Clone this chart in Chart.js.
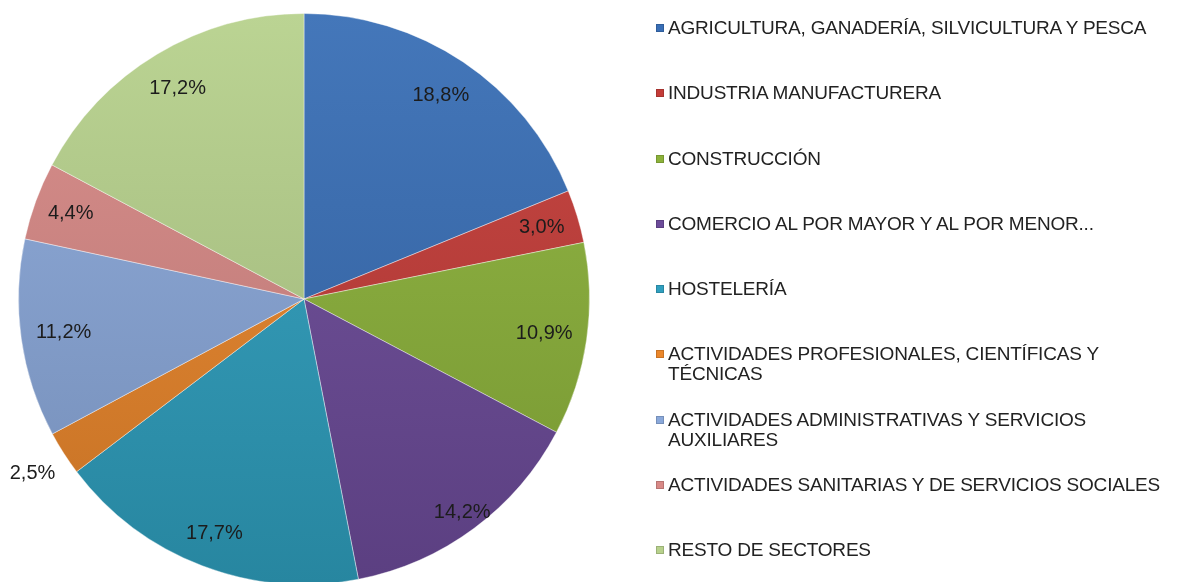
<!DOCTYPE html>
<html>
<head>
<meta charset="utf-8">
<title>Distribución por sectores</title>
<script src="https://cdn.jsdelivr.net/npm/chart.js@4.4.1/dist/chart.umd.min.js"></script>
<style>
  html, body { margin: 0; padding: 0; background: #fff; overflow: hidden; }
  body { width: 1177px; height: 582px; position: relative; }
  #wrap { position: absolute; left: 0; top: 0; width: 1177px; height: 600px; }
  #legend {
    position: absolute; left: 656px; top: 0;
    font-family: "Liberation Sans", Arial, sans-serif; font-size: 19px; color: #222;
  }
  #legend .item { position: absolute; left: 0; white-space: nowrap; line-height: 20px; }
  #legend .box {
    position: absolute; left: 0; top: 6px; width: 8px; height: 8px;
    box-shadow: inset 0 0 0 1px rgba(0,0,0,0.15);
  }
  #legend .txt { position: absolute; left: 12px; top: 0; letter-spacing: -0.2px; }
</style>
</head>
<body>
<div id="wrap"><canvas id="pie"></canvas></div>
<div id="legend"></div>
<script>
// sectores y su peso en el total (%)
const sectors = [
  'AGRICULTURA, GANADERÍA, SILVICULTURA Y PESCA',
  'INDUSTRIA MANUFACTURERA',
  'CONSTRUCCIÓN',
  'COMERCIO AL POR MAYOR Y AL POR MENOR...',
  'HOSTELERÍA',
  ['ACTIVIDADES PROFESIONALES, CIENTÍFICAS Y', 'TÉCNICAS'],
  ['ACTIVIDADES ADMINISTRATIVAS Y SERVICIOS', 'AUXILIARES'],
  'ACTIVIDADES SANITARIAS Y DE SERVICIOS SOCIALES',
  'RESTO DE SECTORES'
];
const shares = [18.8, 3.0, 10.9, 14.2, 17.7, 2.5, 11.2, 4.4, 17.2];

const sliceColors = ['#386eb6', '#c43c38', '#8cb23a', '#6c4b99', '#2f9fbf', '#eb872b', '#8aa8da', '#d88986', '#b7d18c'];

// distance of each percentage label from the centre, as a fraction of the radius
const labelRadius = [0.86, 0.87, 0.85, 0.93, 0.88, 1.13, 0.85, 0.87, 0.86];

function shade(hex, amt) {
  const n = parseInt(hex.slice(1), 16);
  const ch = [(n >> 16) & 255, (n >> 8) & 255, n & 255].map(v => {
    const t = amt >= 0 ? v + (255 - v) * amt : v * (1 + amt);
    return Math.round(Math.max(0, Math.min(255, t)));
  });
  return 'rgb(' + ch.join(',') + ')';
}

function pct(v) {
  return v.toFixed(1).replace('.', ',') + '%';
}

// percentage text on top of each slice
const pieLabels = {
  id: 'pieLabels',
  afterDatasetsDraw(chart) {
    const ctx = chart.ctx;
    const meta = chart.getDatasetMeta(0);
    ctx.save();
    ctx.font = '20px "Liberation Sans", Arial, sans-serif';
    ctx.fillStyle = '#1c1c1c';
    ctx.textAlign = 'center';
    ctx.textBaseline = 'middle';
    meta.data.forEach((arc, i) => {
      const p = arc.getProps(['x', 'y', 'startAngle', 'endAngle', 'outerRadius'], true);
      const mid = (p.startAngle + p.endAngle) / 2;
      const r = p.outerRadius * labelRadius[i];
      ctx.fillText(pct(shares[i]), p.x + Math.cos(mid) * r, p.y + Math.sin(mid) * r);
    });
    ctx.restore();
  }
};

const chart = new Chart(document.getElementById('pie'), {
  type: 'pie',
  data: {
    labels: sectors,
    datasets: [{
      data: shares,
      backgroundColor: (c) => {
        const base = sliceColors[c.dataIndex];
        const area = c.chart.chartArea;
        if (!area) return base;
        const g = c.chart.ctx.createLinearGradient(0, area.top, 0, area.bottom);
        g.addColorStop(0, shade(base, 0.06));
        g.addColorStop(1, shade(base, -0.16));
        return g;
      },
      borderColor: 'rgba(255,255,255,0.4)',
      borderWidth: 1,
      hoverOffset: 0
    }]
  },
  options: {
    responsive: true,
    maintainAspectRatio: false,
    animation: false,
    layout: { padding: { left: 18, top: 13, right: 587, bottom: 15 } },
    plugins: {
      legend: { display: false },
      tooltip: { enabled: false }
    }
  },
  plugins: [pieLabels]
});

// legend on the right, one slot per sector
const legend = document.getElementById('legend');
sectors.forEach((label, i) => {
  const lines = Array.isArray(label) ? label : [label];
  const item = document.createElement('div');
  item.className = 'item';
  item.style.top = (18 + i * 65.25) + 'px';
  const box = document.createElement('span');
  box.className = 'box';
  box.style.background = sliceColors[i];
  const txt = document.createElement('span');
  txt.className = 'txt';
  txt.innerHTML = lines.join('<br>');
  item.appendChild(box);
  item.appendChild(txt);
  legend.appendChild(item);
});
</script>
</body>
</html>
